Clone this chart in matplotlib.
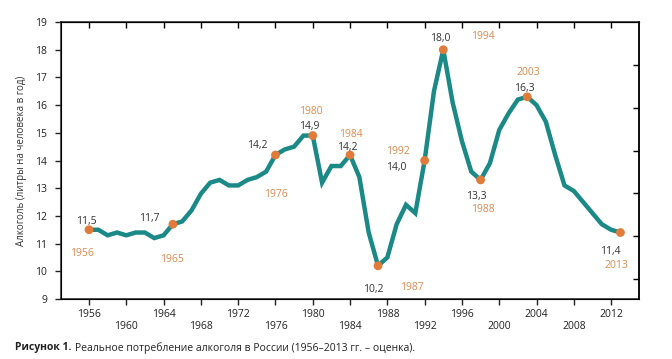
import matplotlib.pyplot as plt

plt.rcParams['font.family'] = ['Open Sans', 'DejaVu Sans']

years = list(range(1956, 2014))
alcohol = [11.5, 11.5, 11.3, 11.4, 11.3, 11.4, 11.4, 11.2, 11.3, 11.7,
           11.8, 12.2, 12.8, 13.2, 13.3, 13.1, 13.1, 13.3, 13.4, 13.6,
           14.2, 14.4, 14.5, 14.9, 14.9, 13.2, 13.8, 13.8, 14.2, 13.4,
           11.4, 10.2, 10.5, 11.7, 12.4, 12.1, 14.0, 16.5, 18.0, 16.1,
           14.7, 13.6, 13.3, 13.9, 15.1, 15.7, 16.2, 16.3, 16.0, 15.4,
           14.2, 13.1, 12.9, 12.5, 12.1, 11.7, 11.5, 11.4]

# marked points: year of point, value text, year text
mark_years = [1956, 1965, 1976, 1980, 1984, 1987, 1992, 1994, 1998, 2003, 2013]
mark_values = ['11,5', '11,7', '14,2', '14,9', '14,2', '10,2', '14,0', '18,0', '13,3', '16,3', '11,4']
mark_labels = ['1956', '1965', '1976', '1980', '1984', '1987', '1992', '1994', '1988', '2003', '2013']

# label offsets (value dx, dy, year dx, dy) in data units
offsets = [(-0.3, 0.3, -0.8, -0.85), (-2.5, 0.22, -0.1, -1.27), (-1.9, 0.33, 0.1, -1.41),
           (-0.4, 0.32, -0.2, 0.86), (-0.3, 0.28, 0.1, 0.75), (-0.5, -0.84, 3.6, -0.78),
           (-3.0, -0.25, -2.9, 0.32), (-0.3, 0.39, 4.2, 0.47), (-0.5, -0.61, 0.2, -1.06),
           (-0.3, 0.3, 0.1, 0.88), (-1.1, -0.69, -0.4, -1.2)]

teal = '#1b8a87'
orange = '#e07b39'
tan = '#d88a4e'

fig = plt.figure(figsize=(6.72, 3.59), dpi=100)
ax = fig.add_axes([0.0908, 0.1671, 0.8602, 0.7716])

ax.plot(years, alcohol, color=teal, lw=3.2, solid_joinstyle='miter', zorder=2)
mx = mark_years
my = [alcohol[years.index(y)] for y in mark_years]
ax.scatter(mx, my, s=40, color=orange, zorder=3, edgecolors='none')

for x, y, v, lab, (vdx, vdy, ldx, ldy) in zip(mx, my, mark_values, mark_labels, offsets):
    ax.text(x + vdx, y + vdy, v, fontsize=7.5, color='#333333', ha='center', va='center')
    ax.text(x + ldx, y + ldy, lab, fontsize=7.5, color=tan, ha='center', va='center')

ax.set_xlim(1953, 2015)
ax.set_ylim(9, 19)
ax.set_yticks(range(9, 20))
ax.set_xticks(range(1956, 2013, 4))
ax.set_xticklabels([str(t) if i % 2 == 0 else '\n' + str(t)
                    for i, t in enumerate(range(1956, 2013, 4))])
ax.tick_params(axis='both', labelsize=7.5, colors='#222222', length=4, width=1)
ax.tick_params(axis='x', pad=3, direction='out')
ax.tick_params(axis='y', pad=6, direction='out')
for s in ax.spines.values():
    s.set_linewidth(1.1)
    s.set_color('#222222')

# top and right ticks without labels
top = ax.secondary_xaxis('top')
top.set_xticks(range(1956, 2013, 4))
top.tick_params(direction='in', length=4, width=1, labeltop=False)
right = ax.twinx()
right.set_ylim(9, 19)
right.set_yticks([17.44, 15.9, 14.36, 12.82, 11.28, 9.74])
right.tick_params(direction='in', length=4, width=1, labelright=False)
right.spines['right'].set_linewidth(1.1)

ax.set_ylabel('Алкоголь (литры на человека в год)', fontsize=7, color='#333333', labelpad=6)

bold = fig.text(0.022, 0.031, 'Рисунок 1.', fontsize=7.5, fontweight='bold',
                color='#222222', va='center')
fig.canvas.draw()
bb = bold.get_window_extent().transformed(fig.transFigure.inverted())
fig.text(bb.x1 + 0.005, 0.031, 'Реальное потребление алкоголя в России (1956–2013 гг. – оценка).',
         fontsize=7.5, color='#222222', va='center')

fig.savefig('out.png', dpi=100)
